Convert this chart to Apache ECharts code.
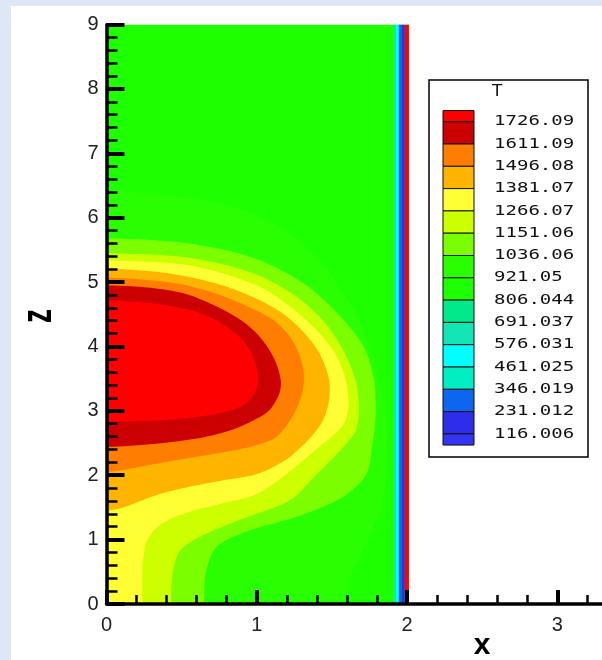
<!DOCTYPE html>
<html>
<head>
<meta charset="utf-8">
<script src="https://cdn.jsdelivr.net/npm/echarts@6/dist/echarts.min.js"></script>
<style>
  html, body { margin: 0; padding: 0; width: 602px; height: 660px; overflow: hidden; background: #dde8f4; }
  #chart { position: absolute; left: 11px; top: 6px; width: 591px; height: 654px; background: #ffffff; }
</style>
</head>
<body>
<div id="chart"></div>
<script>
// Contour levels of T (legend labels, top to bottom)
const levelLabels = ['1726.09', '1611.09', '1496.08', '1381.07', '1266.07', '1151.06', '1036.06',
  '921.05', '806.044', '691.037', '576.031', '461.025', '346.019', '231.012', '116.006'];

// Fill colour of each band, from the lowest (< 116.006) to the highest (> 1726.09)
const bandColors = ['#3434f2', '#2d2deb', '#0d66f0', '#00efc2', '#00ffff', '#12e6b6', '#00e98a',
  '#1eff00', '#29ff00', '#7bff00', '#ccff00', '#ffff33', '#ffb400', '#ff7d00', '#cc0000', '#ff0000'];

// Computational domain (x, z)
const domainX = [0, 2.012];
const domainZ = [0, 9];

const contour921 = [[0, 6.42], [0.4, 6.35], [0.77, 6.22], [1.05, 5.98], [1.3, 5.6], [1.5, 5.1], [1.66, 4.5],
  [1.78, 3.8], [1.85, 3.0], [1.87, 2.2], [1.83, 1.5], [1.72, 0.9], [1.62, 0.4], [1.58, 0]];
const contour1036 = [[0, 5.68], [0.55, 5.6], [1.0, 5.36], [1.33, 4.95], [1.55, 4.48], [1.71, 4.0], [1.78, 3.47],
  [1.79, 2.9], [1.77, 2.5], [1.73, 2.02], [1.57, 1.66], [1.26, 1.35], [0.95, 1.14], [0.73, 0.88], [0.66, 0.47], [0.65, 0]];
const contour1151 = [[0, 5.45], [0.55, 5.38], [1.0, 5.12], [1.26, 4.78], [1.45, 4.38], [1.58, 3.92], [1.66, 3.45],
  [1.68, 3.0], [1.66, 2.7], [1.6, 2.5], [1.5, 2.25], [1.4, 2.02], [1.22, 1.61], [0.88, 1.3], [0.62, 1.04],
  [0.49, 0.83], [0.44, 0.47], [0.43, 0]];
const contour1266 = [[0, 5.34], [0.55, 5.26], [1.0, 4.95], [1.22, 4.62], [1.4, 4.25], [1.52, 3.9], [1.59, 3.5],
  [1.61, 3.1], [1.58, 2.8], [1.5, 2.6], [1.42, 2.45], [1.31, 2.23], [1.17, 1.97], [1.0, 1.71], [0.77, 1.56],
  [0.55, 1.43], [0.37, 1.25], [0.27, 0.99], [0.24, 0.57], [0.24, 0]];
const contour1381 = [[0, 5.21], [0.33, 5.16], [0.55, 5.08], [0.77, 4.95], [1.0, 4.74], [1.18, 4.5], [1.32, 4.2],
  [1.42, 3.88], [1.48, 3.5], [1.48, 3.15], [1.44, 2.85], [1.38, 2.65], [1.3, 2.45], [1.2, 2.25], [1.0, 2.02],
  [0.77, 1.92], [0.55, 1.82], [0.33, 1.69], [0.11, 1.5], [0, 1.45]];
const contour1496 = [[0, 5.07], [0.33, 5.02], [0.55, 4.94], [0.77, 4.79], [0.95, 4.61], [1.11, 4.41], [1.22, 4.15],
  [1.28, 3.89], [1.31, 3.63], [1.31, 3.37], [1.27, 3.06], [1.2, 2.78], [1.12, 2.58], [1.0, 2.47], [0.88, 2.4],
  [0.66, 2.31], [0.33, 2.18], [0, 2.05]];
const contour1611 = [[0, 4.95], [0.33, 4.9], [0.55, 4.8], [0.77, 4.58], [0.9, 4.4], [1.0, 4.2], [1.08, 3.96],
  [1.13, 3.73], [1.16, 3.47], [1.15, 3.27], [1.08, 3.0], [0.95, 2.82], [0.8, 2.68], [0.6, 2.57], [0.33, 2.49], [0, 2.44]];
const contour1726 = [[0, 4.72], [0.3, 4.67], [0.55, 4.57], [0.72, 4.42], [0.85, 4.22], [0.94, 4.0], [0.99, 3.75],
  [1.01, 3.5], [0.99, 3.3], [0.93, 3.12], [0.82, 3.0], [0.65, 2.92], [0.4, 2.86], [0, 2.83]];

// Thin layers along the outer wall: [x from, x to, band]
const wallStrips = [[1.913, 1.926, 5], [1.926, 1.945, 4], [1.945, 1.962, 2], [1.962, 1.985, 1], [1.985, 2.012, 15]];

// Painter's order: background band first, hotter regions on top.
// Each iso-line is closed through points outside the plot window, so the
// smoothed outline never bends back into the visible area at the axis.
const OUT = 0.6;
const regions = [];
regions.push({
  band: 7, smooth: 0,
  pts: [[domainX[0], domainZ[0]], [domainX[1], domainZ[0]], [domainX[1], domainZ[1]], [domainX[0], domainZ[1]]]
});
[[contour921, 8], [contour1036, 9], [contour1151, 10], [contour1266, 11], [contour1381, 12],
 [contour1496, 13], [contour1611, 14], [contour1726, 15]].forEach(([line, band]) => {
  const first = line[0];
  const last = line[line.length - 1];
  const pts = [[-OUT, first[1]]].concat(line);
  if (last[1] === domainZ[0] && last[0] !== 0) {
    pts.push([last[0], -OUT], [-OUT, -OUT]);
  } else {
    pts.push([-OUT, last[1]]);
  }
  regions.push({ band, smooth: 0.3, pts });
});
wallStrips.forEach(([x0, x1, band]) => {
  regions.push({ band, smooth: 0, pts: [[x0, domainZ[0]], [x1, domainZ[0]], [x1, domainZ[1]], [x0, domainZ[1]]] });
});

// Colour legend built from the level list
const legend = [];
const lgX = 418, lgY = 74, boxX = 432, boxW = 31, firstY = 115.7, step = 22.3;
legend.push({ type: 'rect', shape: { x: lgX, y: lgY, width: 159, height: 377 },
  style: { fill: '#ffffff', stroke: '#000000', lineWidth: 1.5 }, z: 100 });
legend.push({ type: 'text', x: 481, y: 86, scaleX: 1.05, z: 101,
  style: { text: 'T', font: '16px "DejaVu Sans"', fill: '#111', align: 'left', verticalAlign: 'middle' } });
const nLev = levelLabels.length;
for (let i = 0; i <= nLev; i++) {
  const band = bandColors.length - 1 - i;
  const top = i === 0 ? firstY - step / 2 : firstY + (i - 1) * step;
  const bottom = i === nLev ? firstY + (nLev - 1) * step + step / 2 : firstY + i * step;
  legend.push({ type: 'rect', shape: { x: boxX, y: top, width: boxW, height: bottom - top },
    style: { fill: bandColors[band], stroke: '#111111', lineWidth: 1 }, z: 101 });
}
levelLabels.forEach((t, i) => {
  legend.push({ type: 'text', x: 483, y: firstY + i * step, scaleX: 1.36, z: 101,
    style: { text: t, font: '14px "DejaVu Sans Mono"', fill: '#111', align: 'left', verticalAlign: 'middle' } });
});

// Axis titles
legend.push({ type: 'text', x: 471, y: 640, z: 101,
  style: { text: 'x', font: 'bold 30px "Liberation Sans"', fill: '#000', align: 'center', verticalAlign: 'middle' } });
legend.push({ type: 'text', x: 28, y: 310, rotation: Math.PI / 2, scaleY: 1.5, z: 101,
  style: { text: 'z', font: 'bold 28px "Liberation Sans"', fill: '#000', align: 'center', verticalAlign: 'middle' } });

const chart = echarts.init(document.getElementById('chart'), null, { renderer: 'canvas' });
const tickFont = { color: '#222', fontFamily: 'Liberation Sans', fontSize: 20 };
const hidden = { show: false };

// Major axes carry the labels, a second pair of axes carries the 0.2 minor ticks
function majorAxis(max, tickLen, margin, pos) {
  return {
    type: 'value', min: 0, max: max, interval: 1, z: 10, position: pos,
    axisLine: { show: true, onZero: false, lineStyle: { color: '#000', width: 3.5 } },
    axisTick: { show: true, inside: true, length: tickLen, lineStyle: { color: '#000', width: 4 } },
    axisLabel: Object.assign({ show: true, margin: margin, hideOverlap: false }, tickFont),
    splitLine: hidden
  };
}
function minorAxis(max, tickLen, pos) {
  return {
    type: 'value', min: 0, max: max, interval: 0.2, z: 9, position: pos, offset: 0,
    axisLine: { show: false, onZero: false },
    axisTick: { show: true, inside: true, length: tickLen, lineStyle: { color: '#000', width: 2.5 } },
    axisLabel: hidden, splitLine: hidden
  };
}

chart.setOption({
  animation: false,
  backgroundColor: '#ffffff',
  grid: { left: 95.5, top: 18.6, right: -105.7, bottom: 56, containLabel: false, outerBoundsMode: 'none' },
  xAxis: [majorAxis(4, 14, 11, 'bottom'), minorAxis(4, 9, 'bottom')],
  yAxis: [majorAxis(9, 18, 8, 'left'), minorAxis(9, 11, 'left')],
  series: [{
    type: 'custom',
    coordinateSystem: 'cartesian2d',
    xAxisIndex: 0, yAxisIndex: 0,
    clip: true,
    silent: true,
    data: regions.map((r, i) => [i]),
    renderItem: function (params, api) {
      const r = regions[params.dataIndex];
      return {
        type: 'polygon',
        z2: params.dataIndex,
        shape: { points: r.pts.map(p => api.coord(p)), smooth: r.smooth },
        style: { fill: bandColors[r.band], stroke: null }
      };
    }
  }],
  graphic: { elements: legend }
});
</script>
</body>
</html>
